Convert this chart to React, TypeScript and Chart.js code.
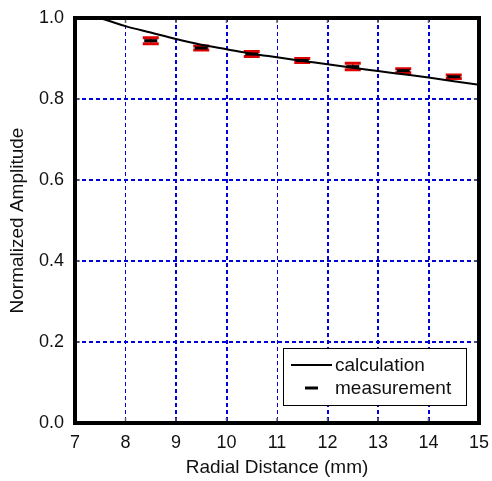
import React, { useEffect, useRef } from "react";
import { Chart, registerables } from "chart.js";

Chart.register(...registerables);

const calcX = [7.5, 8, 8.5, 9, 9.5, 10, 10.5, 11, 11.5, 12, 12.5, 13, 13.5, 14, 14.5, 15];
const calcY = [1.0, 0.98, 0.964, 0.948, 0.934, 0.923, 0.912, 0.903, 0.894, 0.886, 0.877, 0.869, 0.861, 0.853, 0.844, 0.835];
const measX = [8.5, 9.5, 10.5, 11.5, 12.5, 13.5, 14.5];
const measY = [0.944, 0.926, 0.911, 0.895, 0.88, 0.87, 0.855];
const measErr = [0.0075, 0.005, 0.006, 0.005, 0.008, 0.005, 0.0045];
const xTicks = [7, 8, 9, 10, 11, 12, 13, 14, 15];
const yTicks = [0, 0.2, 0.4, 0.6, 0.8, 1.0];
const legendLabels = ["calculation", "measurement"];

const FONT = "'Liberation Sans', Arial, sans-serif";
const BLUE = "#0000dd";
const RED = "#dd0000";

const errorBarPlugin = {
  id: "errorBars",
  beforeDatasetsDraw(chart: any) {
    const { ctx, scales } = chart;
    const xs = scales.x;
    const ys = scales.y;
    ctx.save();
    ctx.strokeStyle = RED;
    measX.forEach((xv, i) => {
      const px = xs.getPixelForValue(xv);
      const top = ys.getPixelForValue(measY[i] + measErr[i]);
      const bot = ys.getPixelForValue(measY[i] - measErr[i]);
      ctx.lineWidth = 1.5;
      ctx.beginPath();
      ctx.moveTo(px, top);
      ctx.lineTo(px, bot);
      ctx.stroke();
      ctx.lineWidth = 3;
      ctx.beginPath();
      ctx.moveTo(px - 8, top);
      ctx.lineTo(px + 8, top);
      ctx.moveTo(px - 8, bot);
      ctx.lineTo(px + 8, bot);
      ctx.stroke();
    });
    ctx.restore();
  },
};

const framePlugin = {
  id: "frame",
  afterDatasetsDraw(chart: any) {
    const { ctx, chartArea, scales } = chart;
    const { left, right, top, bottom } = chartArea;
    ctx.save();
    // small inner ticks
    ctx.strokeStyle = "#666";
    ctx.lineWidth = 1.5;
    ctx.beginPath();
    xTicks.forEach((v) => {
      const px = scales.x.getPixelForValue(v);
      ctx.moveTo(px, top);
      ctx.lineTo(px, top + 5);
      ctx.moveTo(px, bottom);
      ctx.lineTo(px, bottom - 5);
    });
    yTicks.forEach((v) => {
      const py = scales.y.getPixelForValue(v);
      ctx.moveTo(left, py);
      ctx.lineTo(left + 5, py);
      ctx.moveTo(right, py);
      ctx.lineTo(right - 5, py);
    });
    ctx.stroke();
    // frame
    ctx.strokeStyle = "#000";
    ctx.lineWidth = 4;
    ctx.strokeRect(left, top, right - left, bottom - top);

    // legend
    const bx = 283, by = 348, bw = 183, bh = 57;
    ctx.fillStyle = "#fff";
    ctx.fillRect(bx, by, bw, bh);
    ctx.strokeStyle = "#000";
    ctx.lineWidth = 1;
    ctx.strokeRect(bx + 0.5, by + 0.5, bw, bh);
    ctx.lineWidth = 2;
    ctx.beginPath();
    ctx.moveTo(291, 365);
    ctx.lineTo(332, 365);
    ctx.stroke();
    ctx.lineWidth = 3;
    ctx.beginPath();
    ctx.moveTo(305, 388);
    ctx.lineTo(318, 388);
    ctx.stroke();
    ctx.fillStyle = "#111";
    ctx.font = `19px ${FONT}`;
    ctx.textBaseline = "middle";
    ctx.textAlign = "left";
    ctx.fillText(legendLabels[0], 335, 366);
    ctx.fillText(legendLabels[1], 335, 389);
    ctx.restore();
  },
};

export default function App() {
  const ref = useRef<HTMLCanvasElement>(null);
  useEffect(() => {
    if (!ref.current) return;
    const chart = new Chart(ref.current, {
      type: "scatter",
      data: {
        datasets: [
          {
            label: legendLabels[0],
            data: calcX.map((x, i) => ({ x, y: calcY[i] })),
            showLine: true,
            borderColor: "#000",
            borderWidth: 2,
            pointRadius: 0,
            cubicInterpolationMode: "monotone",
          } as any,
          {
            label: legendLabels[1],
            data: measX.map((x, i) => ({ x, y: measY[i] })),
            showLine: false,
            pointStyle: "line",
            pointRadius: 6.5,
            pointBorderWidth: 3,
            borderColor: "#000",
            backgroundColor: "#000",
          } as any,
        ],
      },
      options: {
        animation: false,
        responsive: false,
        layout: { padding: { top: 18, right: 13, left: 0, bottom: 0 } },
        plugins: { legend: { display: false }, tooltip: { enabled: false } },
        scales: {
          x: {
            type: "linear",
            min: 7,
            max: 15,
            afterFit(scale: any) {
              scale.height = 58;
              scale.paddingLeft = 0;
              scale.paddingRight = 0;
            },
            afterBuildTicks(scale: any) {
              scale.ticks = xTicks.map((v) => ({ value: v }));
            },
            ticks: {
              padding: 9,
              color: "#111",
              font: { family: FONT, size: 18 },
              maxRotation: 0,
              autoSkip: false,
            },
            grid: {
              drawTicks: false,
              color: (c: any) => (c.tick && c.tick.value > 7 && c.tick.value < 15 ? BLUE : "rgba(0,0,0,0)"),
              lineWidth: (c: any) => (c.tick && (c.tick.value === 8 || c.tick.value === 11) ? 1 : 2),
            },
            border: { display: false, dash: [4, 3] },
            title: {
              display: true,
              text: "Radial Distance (mm)",
              color: "#111",
              font: { family: FONT, size: 19 },
              padding: { top: 0, bottom: 2 },
            },
          },
          y: {
            type: "linear",
            min: 0,
            max: 1,
            afterFit(scale: any) {
              scale.width = 75;
              scale.paddingTop = 0;
              scale.paddingBottom = 0;
            },
            afterBuildTicks(scale: any) {
              scale.ticks = yTicks.map((v) => ({ value: v }));
            },
            ticks: {
              padding: 11,
              color: "#111",
              font: { family: FONT, size: 18 },
              callback: (v: any) => Number(v).toFixed(1),
            },
            grid: {
              drawTicks: false,
              color: (c: any) => (c.tick && c.tick.value > 0.01 && c.tick.value < 0.99 ? BLUE : "rgba(0,0,0,0)"),
              lineWidth: 2,
            },
            border: { display: false, dash: [4, 3] },
            title: {
              display: true,
              text: "Normalized Amplitude",
              color: "#111",
              font: { family: FONT, size: 19 },
              padding: { top: 6, bottom: 0 },
            },
          },
        },
      },
      plugins: [errorBarPlugin, framePlugin],
    });
    return () => chart.destroy();
  }, []);
  return (
    <div style={{ position: "absolute", left: 0, top: 0, width: 492, height: 481, background: "#fff" }}>
      <canvas ref={ref} width={492} height={481} />
    </div>
  );
}
